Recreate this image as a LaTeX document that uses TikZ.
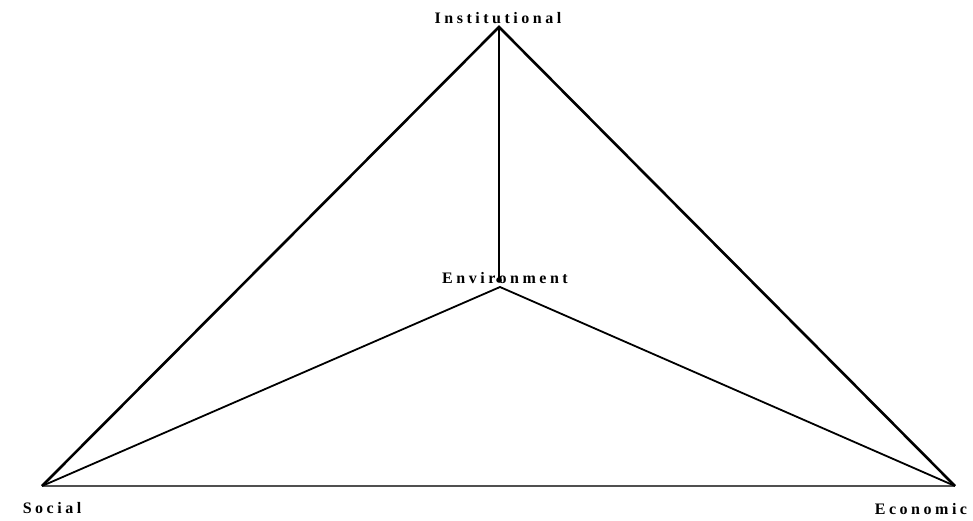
\documentclass[tikz,border=0pt]{standalone}
\usepackage{fontspec}
\setmainfont{Liberation Serif}
\newfontfamily\spacedfont[LetterSpace=22]{Liberation Serif}
\usepackage{tikz}
\usetikzlibrary{positioning}
\definecolor{edgegray}{HTML}{505050}

\begin{document}
\begin{tikzpicture}[
    x=1pt, y=-1pt,
    label/.style={inner sep=0pt, anchor=base, font=\spacedfont\bfseries\fontsize{16}{18}\selectfont},
    outer/.style={draw=black, line width=2.6pt},
    inner/.style={draw=black, line width=1.8pt},
    baseline/.style={draw=edgegray, line width=2.4pt}
]
  \useasboundingbox (0,0) rectangle (973,520);

  % Corners of the triangle
  \coordinate (inst) at (499,27);
  \coordinate (soc)  at (42,486);
  \coordinate (eco)  at (955,486);
  \coordinate (env)  at (500,287);
  \coordinate (envdot) at (499,280);

  % Labels
  \node[label] (instlabel) at (498,23)  {Institutional};
  \node[label] (envlabel)  at (505,283) {Environment};
  \node[label] (soclabel)  at (52,513)  {Social};
  \node[label] (ecolabel)  at (921,514) {Economic};

  % Outer triangle
  \draw[outer] (soc) -- (inst) -- (eco);
  \draw[baseline] (soc) -- (eco);

  % Lines to the centre
  \draw[outer] (inst) -- (envdot);
  \fill (envdot) circle (2.8pt);
  \draw[inner] (soc) -- (env) -- (eco);
\end{tikzpicture}
\end{document}
